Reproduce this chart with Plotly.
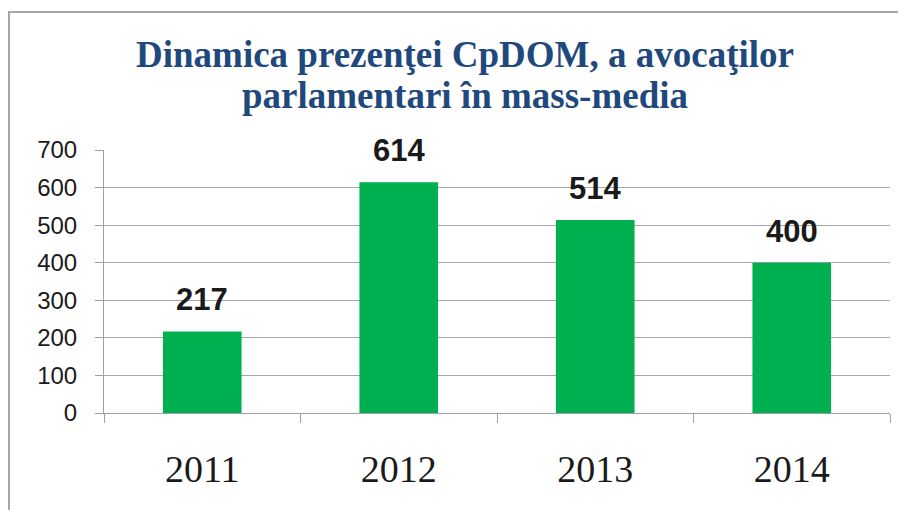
import plotly.graph_objects as go

## chart data
years = ["2011", "2012", "2013", "2014"]
mentions = [217, 614, 514, 400]
y_ticks = [0, 100, 200, 300, 400, 500, 600, 700]

title_lines = ["Dinamica prezenţei CpDOM, a avocaţilor", "parlamentari în mass-media"]

W, H = 906, 510
ml, mr, mt, mb = 96, 24, 142, 105
pw, ph = W - ml - mr, H - mt - mb


def px_x(x):
    return (x - ml) / pw


def px_y(y):
    return (H - mb - y) / ph


bars = go.Bar(
    x=years,
    y=mentions,
    width=0.4,
    marker=dict(color="#00B050", line=dict(width=0)),
    hoverinfo="x+y",
)

fig = go.Figure(data=[bars])

## value labels above bars (x given as category index, years look numeric)
for i, v in enumerate(mentions):
    fig.add_annotation(
        x=i, y=v, xref="x", yref="y",
        text="<b>%d</b>" % v,
        showarrow=False, yanchor="bottom", yshift=12,
        font=dict(family="Liberation Sans, Arial", size=31, color="#1a1a1a"),
    )

## title, two lines placed separately to keep the tight spacing
for line, ypix in zip(title_lines, [46, 87]):
    fig.add_annotation(
        x=px_x(457), y=px_y(ypix), xref="paper", yref="paper",
        text="<b>" + line + "</b>",
        showarrow=False, xanchor="center", yanchor="middle",
        font=dict(family="Liberation Serif, Times New Roman", size=37, color="#1F497D"),
    )

## outer frame of the chart
fig.add_shape(
    type="rect", xref="paper", yref="paper",
    x0=px_x(1), x1=px_x(912), y0=px_y(516), y1=px_y(4),
    line=dict(color="#A6A6A6", width=2), layer="below",
)

fig.update_layout(
    width=W, height=H,
    margin=dict(l=ml, r=mr, t=mt, b=mb, autoexpand=False),
    paper_bgcolor="white",
    plot_bgcolor="white",
    showlegend=False,
    xaxis=dict(
        type="category",
        range=[-0.5, len(years) - 0.5],
        automargin=False,
        showgrid=False,
        showline=True, linecolor="#A0A0A0", linewidth=1,
        ticks="outside", tickson="boundaries", ticklen=9, tickcolor="#A0A0A0",
        ticklabelstandoff=22, tickangle=0,
        tickfont=dict(family="Liberation Serif, Times New Roman", size=38, color="#1a1a1a"),
    ),
    yaxis=dict(
        range=[0, 700],
        automargin=False,
        tickvals=y_ticks,
        showgrid=True, gridcolor="#A6A6A6", gridwidth=1,
        showline=True, linecolor="#A0A0A0", linewidth=1,
        ticks="outside", ticklen=8, tickcolor="#A0A0A0",
        ticklabelstandoff=13,
        zeroline=False,
        tickfont=dict(family="Liberation Sans, Arial", size=24, color="#1a1a1a"),
    ),
)

fig.write_html("out.html")
